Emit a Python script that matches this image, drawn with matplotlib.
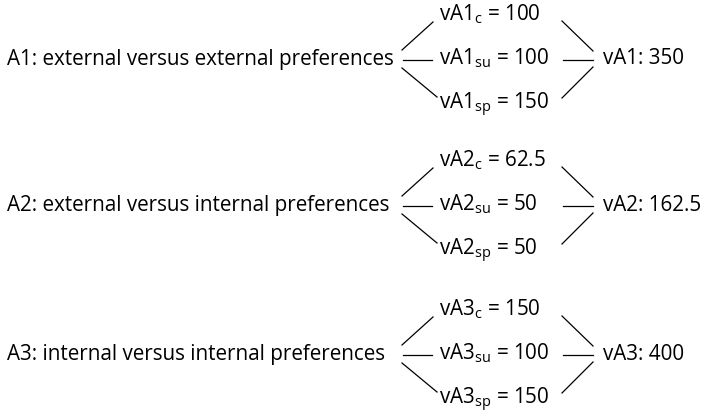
import matplotlib
matplotlib.use("Agg")
import matplotlib.pyplot as plt

# Data for the three alternatives
alternatives = ["A1", "A2", "A3"]
descriptions = ["external versus external preferences",
                "external versus internal preferences",
                "internal versus internal preferences"]
v_c = [100, 62.5, 150]
v_su = [100, 50, 100]
v_sp = [150, 50, 150]
totals = [350, 162.5, 400]

plt.rcParams["font.family"] = ["Open Sans", "DejaVu Sans"]
plt.rcParams["font.weight"] = "medium"
plt.rcParams["mathtext.fontset"] = "custom"
plt.rcParams["mathtext.rm"] = "Open Sans:medium"
plt.rcParams["mathtext.it"] = "Open Sans:medium"

fig = plt.figure(figsize=(7.05, 4.19), dpi=100)
ax = fig.add_axes([0, 0, 1, 1])
ax.set_xlim(0, 705)
ax.set_ylim(419, 0)
ax.axis("off")

fs = 14.9
centers = [59, 205, 354]
gap = 44.5
lw = 0.9
base = 5.5  # baseline sits a little below the connector line

for i, name in enumerate(alternatives):
    c = centers[i]
    # left label
    ax.text(7, c + base, f"{name}: {descriptions[i]}", fontsize=fs, va="baseline", ha="left")

    # left fan
    ax.plot([402, 433], [c - 9, c - 37], color="black", lw=lw)
    ax.plot([403, 432], [c + 1, c + 1], color="black", lw=lw)
    ax.plot([402, 437], [c + 9, c + 38], color="black", lw=lw)

    # component values
    parts = [("c", v_c[i]), ("su", v_su[i]), ("sp", v_sp[i])]
    for k, (sub, val) in enumerate(parts):
        y = c + (k - 1) * gap
        ax.text(439, y + base, f"v{name}$_{{\\mathrm{{{sub}}}}}$ = {val:g}",
                fontsize=fs, va="baseline", ha="left")

    # right fan
    ax.plot([562, 593], [c - 38, c - 8], color="black", lw=lw)
    ax.plot([563, 593], [c + 1, c + 1], color="black", lw=lw)
    ax.plot([562, 593], [c + 39, c + 8], color="black", lw=lw)

    # total
    ax.text(603, c + base, f"v{name}: {totals[i]:g}", fontsize=fs, va="baseline", ha="left")

fig.savefig("out.png", dpi=100)
